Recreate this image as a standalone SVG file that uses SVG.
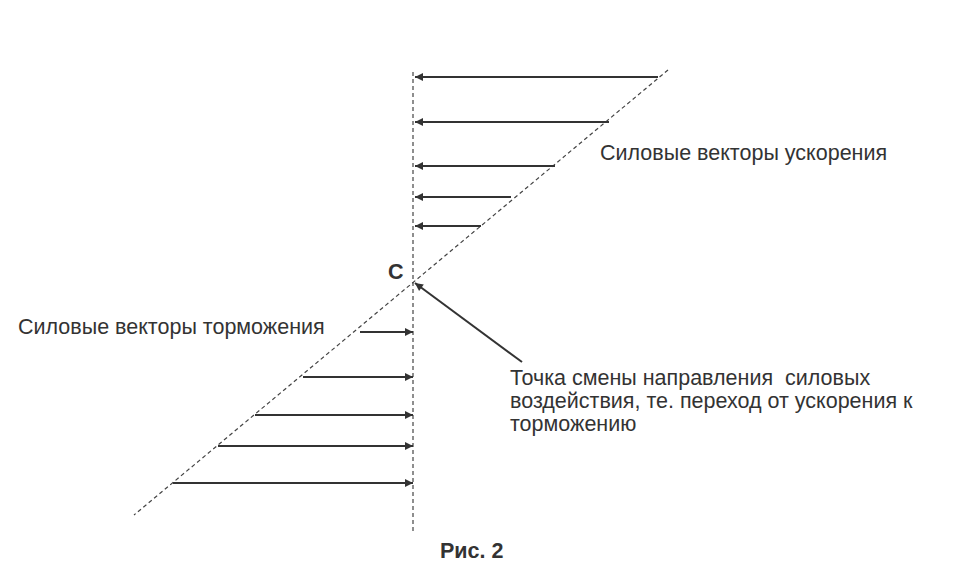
<svg xmlns="http://www.w3.org/2000/svg" width="978" height="584" viewBox="0 0 978 584">
<defs>
<marker id="ah" viewBox="0 0 10 10" refX="10" refY="5" markerWidth="10" markerHeight="8" markerUnits="userSpaceOnUse" orient="auto"><path d="M0,0 L10,5 L0,10 z" fill="#333"/></marker>
</defs>
<style>
.d{stroke:#444;stroke-width:1.2;stroke-dasharray:4,3;fill:none}
.a{stroke:#333;stroke-width:2;marker-end:url(#ah)}
text{font-family:"Liberation Sans",Arial,sans-serif;font-size:21.5px;fill:#333}
</style>
<rect width="978" height="584" fill="#fff"/>
<g id="axes">
<line class="d" x1="413" y1="72" x2="413" y2="532"/>
<line class="d" x1="668" y1="70" x2="134" y2="515"/>
</g>
<g id="connectors">
<line class="a" x1="658" y1="77" x2="415" y2="77"/>
<line class="a" x1="609" y1="122" x2="415" y2="122"/>
<line class="a" x1="555" y1="166" x2="415" y2="166"/>
<line class="a" x1="511" y1="197" x2="415" y2="197"/>
<line class="a" x1="481" y1="226" x2="415" y2="226"/>
<line class="a" x1="360" y1="332" x2="413" y2="332"/>
<line class="a" x1="303" y1="377" x2="413" y2="377"/>
<line class="a" x1="255" y1="415" x2="413" y2="415"/>
<line class="a" x1="218" y1="446" x2="413" y2="446"/>
<line class="a" x1="173" y1="483" x2="413" y2="483"/>
<line class="a" x1="522" y1="362" x2="415" y2="283"/>
</g>
<g id="labels">
<text x="388" y="279" font-weight="bold" font-size="19">C</text>
<text x="600" y="160">Силовые векторы ускорения</text>
<text x="18" y="334">Силовые векторы торможения</text>
<text x="510" y="385" xml:space="preserve">Точка смены направления  силовых</text>
<text x="510" y="408">воздействия, те. переход от ускорения к</text>
<text x="510" y="431">торможению</text>
<text x="440" y="558" font-weight="bold" font-size="19">Рис. 2</text>
</g>
</svg>
